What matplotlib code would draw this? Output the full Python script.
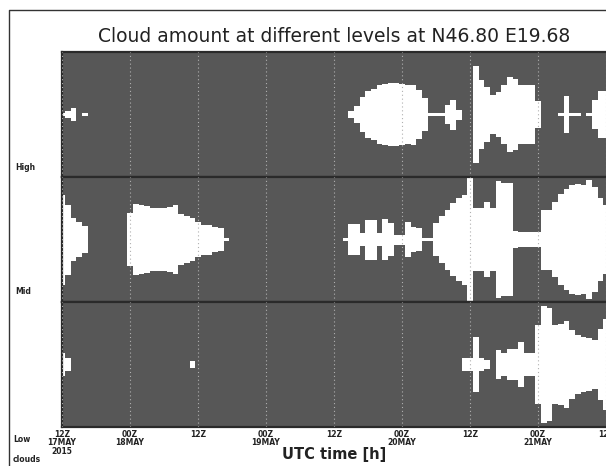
import numpy as np
import matplotlib
matplotlib.use("Agg")
import matplotlib.pyplot as plt
from matplotlib.lines import Line2D

# hourly cloud amount (fraction 0..1), hours since 12Z 17 May 2015
hours = np.arange(97)

high = [0.02, 0.06, 0.10, 0, 0.02, 0, 0, 0, 0, 0, 0, 0,
        0, 0, 0, 0, 0, 0, 0, 0, 0, 0, 0, 0,
        0, 0, 0, 0, 0, 0, 0, 0, 0, 0, 0, 0,
        0, 0, 0, 0, 0, 0, 0, 0, 0, 0, 0, 0,
        0, 0, 0, 0.05, 0.13, 0.28, 0.38, 0.41, 0.47, 0.49, 0.51, 0.51,
        0.49, 0.47, 0.48, 0.39, 0.27, 0.02, 0.02, 0.02, 0.15, 0.24, 0.08, 0,
        0, 0.77, 0.55, 0.44, 0.31, 0.36, 0.47, 0.60, 0.57, 0.47, 0.47, 0.47,
        0.21, 0, 0, 0, 0.03, 0.29, 0.03, 0.03, 0, 0.03, 0.23, 0.37,
        0.37]

mid = [0.72, 0.56, 0.35, 0.28, 0.22, 0, 0, 0, 0, 0, 0, 0,
       0.42, 0.57, 0.55, 0.54, 0.50, 0.50, 0.51, 0.52, 0.55, 0.41, 0.38, 0.35,
       0.28, 0.24, 0.24, 0.20, 0.18, 0.02, 0, 0, 0, 0, 0, 0,
       0, 0, 0, 0, 0, 0, 0, 0, 0, 0, 0, 0,
       0, 0, 0.02, 0.25, 0.25, 0.10, 0.32, 0.32, 0.10, 0.33, 0.27, 0.08,
       0.08, 0.28, 0.20, 0.18, 0.02, 0.02, 0.27, 0.37, 0.48, 0.59, 0.67, 0.72,
       0.99, 0.51, 0.51, 0.60, 0.51, 0.93, 0.90, 0.90, 0.14, 0.12, 0.12, 0.12,
       0.12, 0.48, 0.48, 0.60, 0.73, 0.81, 0.87, 0.89, 0.87, 0.95, 0.84, 0.67,
       0.55]

low = [0.18, 0.10, 0, 0, 0, 0, 0, 0, 0, 0, 0, 0,
       0, 0, 0, 0, 0, 0, 0, 0, 0, 0, 0, 0.05,
       0, 0, 0, 0, 0, 0, 0, 0, 0, 0, 0, 0,
       0, 0, 0, 0, 0, 0, 0, 0, 0, 0, 0, 0,
       0, 0, 0, 0, 0, 0, 0, 0, 0, 0, 0, 0,
       0, 0, 0, 0, 0, 0, 0, 0, 0, 0, 0, 0.10,
       0.10, 0.44, 0.10, 0.07, 0, 0.23, 0.18, 0.25, 0.25, 0.36, 0.18, 0.18,
       0.63, 0.93, 0.90, 0.63, 0.65, 0.70, 0.55, 0.47, 0.44, 0.43, 0.39, 0.57,
       0.73]

levels = [high, mid, low]

tick_hours = [0, 12, 24, 36, 48, 60, 72, 84, 96]
tick_labels = ["12Z\n17MAY\n2015", "00Z\n18MAY", "12Z", "00Z\n19MAY", "12Z",
               "00Z\n20MAY", "12Z", "00Z\n21MAY", "12Z"]

W, H = 606, 466
fig = plt.figure(figsize=(W / 100, H / 100), dpi=100)
fig.patch.set_facecolor("white")

px_per_h = 68.0 / 12
x0 = 62
xmax = 100
panel_top = [52, 177, 302]
panel_h = 125

for i, vals in enumerate(levels):
    top = panel_top[i]
    ax = fig.add_axes([x0 / W, (H - top - panel_h) / H,
                       xmax * px_per_h / W, panel_h / H])
    ax.set_facecolor("#575757")
    v = np.array(vals)
    ax.bar(hours, 2 * v, bottom=-v, width=1.0, color="white",
           linewidth=0, antialiased=False, zorder=2)
    for th in tick_hours:
        ax.axvline(th, color="#b0b0b0", lw=0.8, ls=(0, (1, 2.5)), zorder=3)
    ax.set_xlim(0, xmax)
    ax.set_ylim(-1, 1)
    ax.set_yticks([])
    ax.tick_params(axis="x", length=0)
    for s in ax.spines.values():
        s.set_color("#2a2a2a")
        s.set_linewidth(1.6)
    if i < 2:
        ax.set_xticks([])
    else:
        ax.set_xticks(tick_hours)
        ax.set_xticklabels(tick_labels, fontsize=5.5, fontweight="bold",
                           linespacing=0.95, color="#222222")
        ax.tick_params(axis="x", pad=2)

# level labels on the left
lab = dict(fontsize=5.5, fontweight="bold", va="center", ha="left", color="#222222")
fig.text(15 / W, 1 - 167 / H, "High", **lab)
fig.text(15 / W, 1 - 291 / H, "Mid", **lab)
fig.text(13 / W, 1 - 440 / H, "Low", **lab)
fig.text(13 / W, 1 - 459 / H, "clouds", **lab)

fig.text(334 / W, 1 - 36 / H, "Cloud amount at different levels at N46.80 E19.68",
         fontsize=13.5, ha="center", va="center", color="#222222")
fig.text(334 / W, 1 - 455 / H, "UTC time [h]", fontsize=10.5, fontweight="bold",
         ha="center", va="center", color="#222222")

# outer frame of the original plot page
fig.add_artist(Line2D([9 / W, 9 / W, 1.01], [-0.01, 1 - 10 / H, 1 - 10 / H],
                      transform=fig.transFigure, color="#333333", lw=1.0))

fig.savefig("out.png", dpi=100)
